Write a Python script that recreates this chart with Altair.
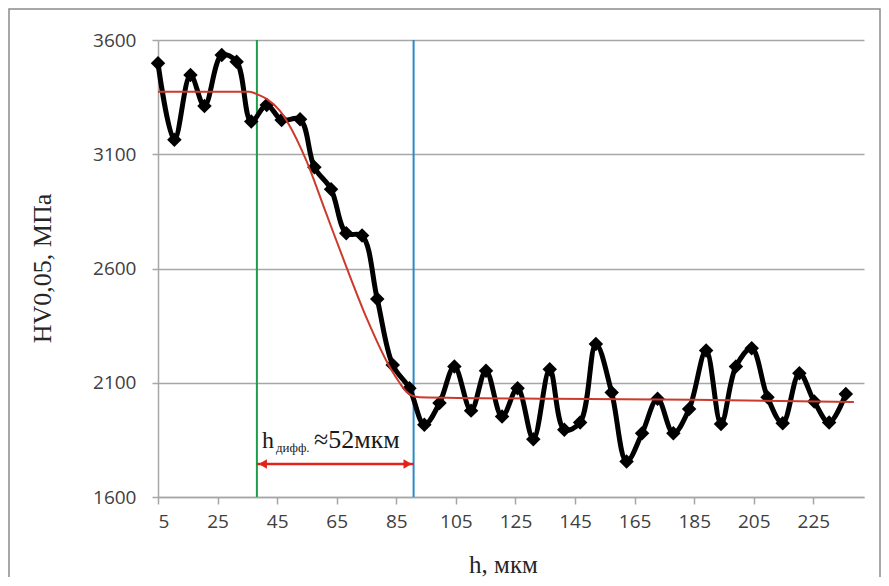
import altair as alt
import pandas as pd

# measured hardness profile (h, µm ; HV0.05, MPa)
h = [5.0, 10.5, 15.9, 20.6, 26.4, 31.4, 36.3, 41.5, 46.5, 52.7,
     57.5, 63.1, 68.2, 73.5, 78.6, 83.8, 89.4, 94.4, 99.5, 104.5,
     110.1, 115.1, 120.5, 125.7, 131.0, 136.5, 141.4, 146.7, 152.0, 157.3,
     162.3, 167.5, 172.7, 178.0, 183.3, 189.0, 194.0, 199.0, 204.3, 209.6,
     214.7, 220.3, 225.3, 230.3, 235.9]
hv = [3498, 3163, 3447, 3311, 3534, 3505, 3243, 3316, 3250, 3253,
      3043, 2947, 2754, 2744, 2466, 2178, 2076, 1916, 2011, 2171,
      1978, 2153, 1952, 2076, 1853, 2159, 1894, 1926, 2270, 2057,
      1755, 1879, 2030, 1879, 1985, 2241, 1920, 2171, 2251, 2037,
      1923, 2142, 2018, 1926, 2051]

# red fitted curve
fit_h = [5, 20, 35.7, 38.4, 41.7, 45.8, 48.5, 54.7, 61.4, 68.2, 75.3,
         82.7, 86.1, 88.3, 90.4, 92.8, 138, 185, 238.6]
fit_v = [3374, 3374, 3374, 3362, 3340, 3292, 3240, 3075, 2843, 2608, 2375,
         2171, 2100, 2062, 2043, 2037, 2030, 2026, 2016]

# vertical marker lines
vline_h = [38.2, 90.8]
vline_color = ["#1E9E4A", "#2A8AC8"]

# arrow between the lines
arrow_h = [38.2, 90.8]
arrow_head_h = [40.2, 88.8]
arrow_head_shape = ["triangle-left", "triangle-right"]

x_ticks = [5, 25, 45, 65, 85, 105, 125, 145, 165, 185, 205, 225]
y_ticks = [1600, 2100, 2600, 3100, 3600]

ann_main = ["h"]
ann_sub = ["дифф."]
ann_val = ["≈52мкм"]

df = pd.DataFrame({"h": h, "v": hv})
df_fit = pd.DataFrame({"h": fit_h, "v": fit_v})
df_vl = pd.DataFrame({"h": vline_h, "c": vline_color})
df_arrow = pd.DataFrame({"h": [arrow_h[0]], "h2": [arrow_h[1]]})
df_heads = pd.DataFrame({"h": arrow_head_h, "s": arrow_head_shape})
one = pd.DataFrame({"a": [0]})

GRID = "#A6A6A6"

xscale = alt.Scale(domain=[5, 242], nice=False, zero=False)
yscale = alt.Scale(domain=[1600, 3600], nice=False, zero=False)

xaxis = alt.Axis(values=x_ticks, grid=False, tickSize=7, labelPadding=8, format="d",
                 title="h, мкм", titleX=345, titleY=67, titleBaseline="middle",
                 titleAlign="center", titleFontSize=25)
yaxis = alt.Axis(values=y_ticks, grid=True, tickSize=6, labelPadding=16, format="d",
                 title="HV0,05, МПа", titleX=-116, titleY=228,
                 titleBaseline="middle", titleAlign="center")

border = alt.Chart(one).mark_rect(fillOpacity=0, stroke="#8C8C8C", strokeWidth=1.5).encode(
    x=alt.value(-149), x2=alt.value(722), y=alt.value(-31), y2=alt.value(545)
)

vlines = alt.Chart(df_vl).mark_rule(strokeWidth=2).encode(
    x=alt.X("h:Q", scale=xscale, axis=xaxis),
    color=alt.Color("c:N", scale=None),
)

black_line = alt.Chart(df).mark_line(color="black", strokeWidth=5,
                                     interpolate="catmull-rom").encode(
    x=alt.X("h:Q", scale=xscale, axis=xaxis),
    y=alt.Y("v:Q", scale=yscale, axis=yaxis),
)
black_pts = alt.Chart(df).mark_point(shape="diamond", filled=True, color="black",
                                     size=210, opacity=1).encode(
    x=alt.X("h:Q", scale=xscale),
    y=alt.Y("v:Q", scale=yscale),
)

red_line = alt.Chart(df_fit).mark_line(color="#CC3A2C", strokeWidth=2,
                                       interpolate="monotone").encode(
    x=alt.X("h:Q", scale=xscale),
    y=alt.Y("v:Q", scale=yscale),
)

arrow = alt.Chart(df_arrow).mark_rule(color="#E0241B", strokeWidth=2.5).encode(
    x=alt.X("h:Q", scale=xscale), x2="h2:Q", y=alt.value(424)
)
heads = alt.Chart(df_heads).mark_point(filled=True, color="#E0241B", opacity=1,
                                       size=90).encode(
    x=alt.X("h:Q", scale=xscale), y=alt.value(424),
    shape=alt.Shape("s:N", scale=None),
)

t_main = alt.Chart(pd.DataFrame({"t": ann_main})).mark_text(
    font="Liberation Serif", fontSize=24, align="left", baseline="alphabetic",
    color="#1A1A1A").encode(x=alt.value(104), y=alt.value(408), text="t:N")
t_sub = alt.Chart(pd.DataFrame({"t": ann_sub})).mark_text(
    font="Liberation Serif", fontSize=13, align="left", baseline="alphabetic",
    color="#1A1A1A").encode(x=alt.value(118), y=alt.value(412), text="t:N")
t_val = alt.Chart(pd.DataFrame({"t": ann_val})).mark_text(
    font="Liberation Serif", fontSize=26, align="left", baseline="alphabetic",
    color="#1A1A1A").encode(x=alt.value(156), y=alt.value(408), text="t:N")

chart = alt.layer(
    border, vlines, black_line, black_pts, red_line, arrow, heads, t_main, t_sub, t_val
).properties(
    width=706, height=457,
    padding={"left": 150, "top": 32, "right": 17, "bottom": 80},
    autosize=alt.AutoSizeParams(type="none"),
    background="white",
).configure_view(stroke=None).configure_axis(
    labelFont="Open Sans", labelFontSize=19, labelColor="#404040",
    titleFont="Liberation Serif", titleFontSize=26, titleFontWeight="normal",
    titleColor="#262626", gridColor=GRID, gridWidth=1.5, domainColor=GRID,
    domainWidth=1.5, tickColor=GRID, tickWidth=1.5,
)

chart.save("out.html", embed_options={"renderer": "svg", "actions": False})
